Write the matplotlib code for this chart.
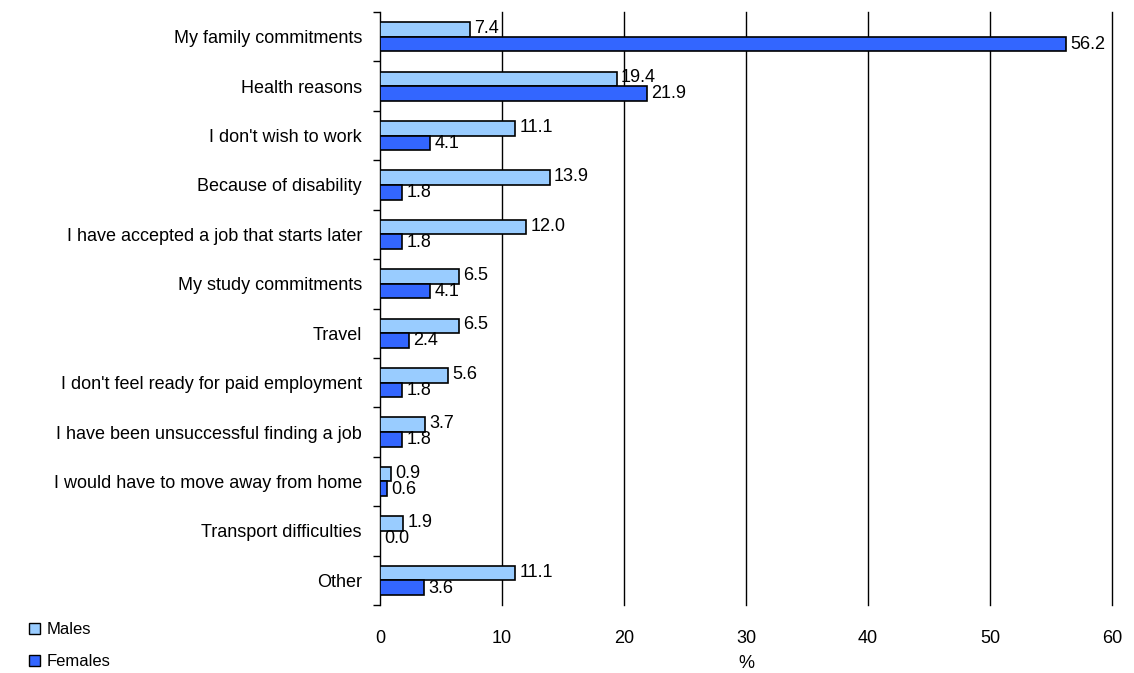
import matplotlib
matplotlib.use("Agg")
import matplotlib.pyplot as plt
import numpy as np
from matplotlib.patches import Patch

plt.rcParams['font.family'] = ['Liberation Sans', 'DejaVu Sans']

categories = ["My family commitments", "Health reasons", "I don't wish to work",
              "Because of disability", "I have accepted a job that starts later",
              "My study commitments", "Travel", "I don't feel ready for paid employment",
              "I have been unsuccessful finding a job", "I would have to move away from home",
              "Transport difficulties", "Other"]
males = [7.4, 19.4, 11.1, 13.9, 12.0, 6.5, 6.5, 5.6, 3.7, 0.9, 1.9, 11.1]
females = [56.2, 21.9, 4.1, 1.8, 1.8, 4.1, 2.4, 1.8, 1.8, 0.6, 0.0, 3.6]
xticks = [0, 10, 20, 30, 40, 50, 60]

male_color = "#99CCFF"
female_color = "#3366FF"

fig = plt.figure(figsize=(11.34, 6.73), dpi=100)
ax = fig.add_axes([380/1134, 1-605/673, (1112-380)/1134, (605-12)/673])

n = len(categories)
y = np.arange(n)
h = 0.295
ax.barh(y - h/2, males, height=h, color=male_color, edgecolor="black", linewidth=1.2, zorder=3)
ax.barh(y + h/2, females, height=h, color=female_color, edgecolor="black", linewidth=1.2, zorder=3)

for i in range(n):
    ax.text(males[i] + 0.35, y[i] - h/2 - 0.02, f"{males[i]:.1f}", va="center", ha="left", fontsize=13, zorder=4)
    ax.text(females[i] + 0.35, y[i] + h/2 + 0.01, f"{females[i]:.1f}", va="center", ha="left", fontsize=13, zorder=4)

ax.set_xlim(0, 60)
ax.set_ylim(n - 0.5, -0.5)
ax.set_xticks(xticks)
ax.set_xticklabels([str(t) for t in xticks], fontsize=13)
ax.tick_params(axis='x', length=0, pad=18)
ax.set_xlabel("%", fontsize=13, labelpad=6)

ax.set_yticks(y)
ax.set_yticklabels(categories, fontsize=13)
ax.tick_params(axis='y', which='major', length=0, pad=13)
ax.set_yticks(np.arange(-0.5, n, 1.0), minor=True)
ax.tick_params(axis='y', which='minor', length=5, width=1, direction='out')

for t in xticks[1:]:
    ax.axvline(t, color="black", linewidth=1, zorder=1, clip_on=False)

for s in ["top", "right", "bottom"]:
    ax.spines[s].set_visible(False)
ax.spines["left"].set_linewidth(1)

handles = [Patch(facecolor=male_color, edgecolor="black", label="Males"),
           Patch(facecolor=female_color, edgecolor="black", label="Females")]
fig.legend(handles=handles, loc="lower left", bbox_to_anchor=(14/1134, -11/673),
           frameon=False, fontsize=12, handlelength=0.65, handleheight=0.65,
           handletextpad=0.4, labelspacing=1.0)

fig.savefig("out.png", dpi=100)
